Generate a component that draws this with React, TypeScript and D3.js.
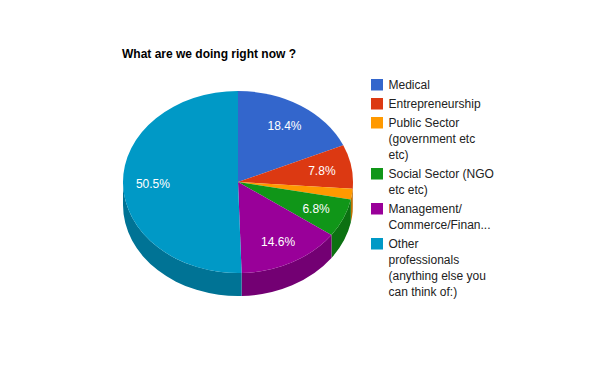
import React from 'react';
import * as d3 from 'd3';

const categories = [
  'Medical',
  'Entrepreneurship',
  'Public Sector (government etc etc)',
  'Social Sector (NGO etc etc)',
  'Management/Commerce/Finance',
  'Other professionals (anything else you can think of:)',
];
const values = [18.4, 7.8, 1.9, 6.8, 14.6, 50.5];
const legendLines = [
  ['Medical'],
  ['Entrepreneurship'],
  ['Public Sector', '(government etc', 'etc)'],
  ['Social Sector (NGO', 'etc etc)'],
  ['Management/', 'Commerce/Finan...'],
  ['Other', 'professionals', '(anything else you', 'can think of:)'],
];
const colors = ['#3366cc', '#dc3912', '#ff9900', '#109618', '#990099', '#0099c6'];

const W = 600;
const H = 371;
const cx = 238;
const cy = 182;
const rx = 115;
const ry = 91;
const depth = 23;
const font = 'Arial, "Liberation Sans", sans-serif';

// angle in radians, clockwise from 12 o'clock
const pt = (a: number, dy = 0): [number, number] => [cx + rx * Math.sin(a), cy - ry * Math.cos(a) + dy];

const sideColor = (c: string) => {
  const rgb = d3.rgb(c);
  return d3.rgb(rgb.r * 0.75, rgb.g * 0.75, rgb.b * 0.75).formatHex();
};

export default function App() {
  const pie = d3.pie<number>().sort(null).value(d => d);
  const arcs = pie(values);

  const topPath = (a0: number, a1: number) => {
    const [x0, y0] = pt(a0);
    const [x1, y1] = pt(a1);
    const large = a1 - a0 > Math.PI ? 1 : 0;
    return `M${cx},${cy} L${x0},${y0} A${rx},${ry} 0 ${large} 1 ${x1},${y1} Z`;
  };

  const wallPath = (a0: number, a1: number) => {
    const lo = Math.max(a0, Math.PI / 2);
    const hi = Math.min(a1, (3 * Math.PI) / 2);
    if (hi <= lo) return null;
    const [x0, y0] = pt(lo);
    const [x1, y1] = pt(hi);
    const [x2, y2] = pt(hi, depth);
    const [x3, y3] = pt(lo, depth);
    return `M${x0},${y0} A${rx},${ry} 0 0 1 ${x1},${y1} L${x2},${y2} A${rx},${ry} 0 0 0 ${x3},${y3} Z`;
  };

  const lineH = 16;
  const gap = 3;
  let yCursor = 79;
  const legendItems = legendLines.map((lines, i) => {
    const y = yCursor;
    yCursor += lines.length * lineH + gap;
    return { lines, y, i };
  });

  return (
    <div style={{ position: 'absolute', left: 0, top: 0 }}>
      <svg width={W} height={H} style={{ display: 'block', background: '#fff' }}>
        <text x={122} y={58} fontFamily={font} fontSize={12} fontWeight="bold" fill="#000">
          What are we doing right now ?
        </text>
        <g>
          {arcs.map((a, i) => {
            const d = wallPath(a.startAngle, a.endAngle);
            return d ? <path key={'w' + i} d={d} fill={sideColor(colors[i])} /> : null;
          })}
          {arcs.map((a, i) => (
            <path key={'t' + i} d={topPath(a.startAngle, a.endAngle)} fill={colors[i]} />
          ))}
          {arcs.map((a, i) => {
            if (values[i] < 5) return null;
            const mid = (a.startAngle + a.endAngle) / 2;
            const f = 0.74;
            const x = cx + rx * f * Math.sin(mid);
            const y = cy - ry * f * Math.cos(mid);
            return (
              <text key={'l' + i} x={x} y={y + 4.5} textAnchor="middle" fontFamily={font} fontSize={12} fill="#fff">
                {values[i].toFixed(1)}%
              </text>
            );
          })}
        </g>
        <g>
          {legendItems.map(({ lines, y, i }) => (
            <g key={categories[i]}>
              <rect x={371} y={y} width={12} height={11.5} fill={colors[i]} />
              {lines.map((ln, j) => (
                <text key={j} x={388.5} y={y + 10.3 + j * lineH} fontFamily={font} fontSize={12} fill="#222">
                  {ln}
                </text>
              ))}
            </g>
          ))}
        </g>
      </svg>
    </div>
  );
}
